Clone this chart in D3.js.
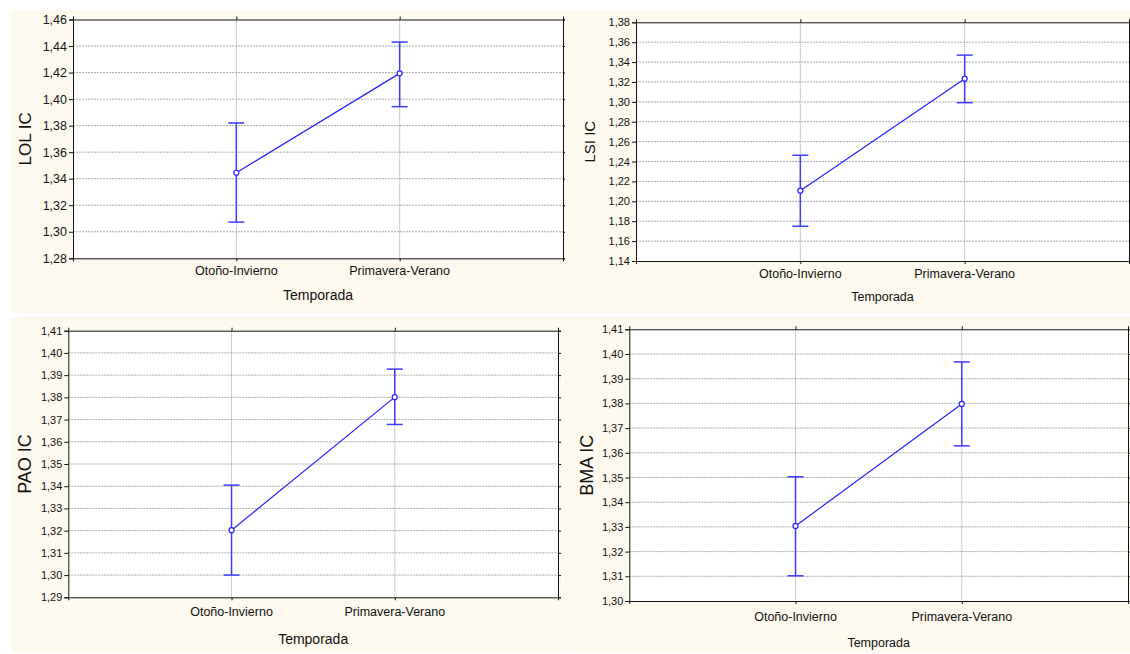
<!DOCTYPE html>
<html>
<head>
<meta charset="utf-8">
<script src="https://cdnjs.cloudflare.com/ajax/libs/d3/7.8.5/d3.min.js"></script>
<style>
  html, body { margin: 0; padding: 0; background: #fff; }
  svg { display: block; font-family: "Liberation Sans", Arial, sans-serif; }
</style>
</head>
<body>
<div id="chart"></div>
<script>
  // categories on x
  var categories = ['Otoño-Invierno', 'Primavera-Verano'];
  var xTitle = 'Temporada';

  // means and confidence limits
  var lolMean = [1.3445, 1.4194];
  var lolLow = [1.3073, 1.3943];
  var lolHigh = [1.3820, 1.4430];

  var lsiMean = [1.2107, 1.3233];
  var lsiLow = [1.1749, 1.2992];
  var lsiHigh = [1.2463, 1.3470];

  var paoMean = [1.3202, 1.3801];
  var paoLow = [1.3000, 1.3678];
  var paoHigh = [1.3405, 1.3927];

  var bmaMean = [1.3304, 1.3798];
  var bmaLow = [1.3102, 1.3628];
  var bmaHigh = [1.3503, 1.3968];

  // y tick values
  var lolTicks = [1.28, 1.30, 1.32, 1.34, 1.36, 1.38, 1.40, 1.42, 1.44, 1.46];
  var lsiTicks = [1.14, 1.16, 1.18, 1.20, 1.22, 1.24, 1.26, 1.28, 1.30, 1.32, 1.34, 1.36, 1.38];
  var paoTicks = [1.29, 1.30, 1.31, 1.32, 1.33, 1.34, 1.35, 1.36, 1.37, 1.38, 1.39, 1.40, 1.41];
  var bmaTicks = [1.30, 1.31, 1.32, 1.33, 1.34, 1.35, 1.36, 1.37, 1.38, 1.39, 1.40, 1.41];

  var panels = [
    { name: 'LOL IC', mean: lolMean, low: lolLow, high: lolHigh, ticks: lolTicks,
      box: { l: 73, r: 563, t: 19.5, b: 258.3 }, bg: [11, 10, 565, 313],
      ylx: 25, xlBase: 275, titleBase: 300, tickFs: 12.5, xlFs: 12.5, titleFs: 14, ylFs: 17 },
    { name: 'LSI IC', mean: lsiMean, low: lsiLow, high: lsiHigh, ticks: lsiTicks,
      box: { l: 636, r: 1129, t: 22.3, b: 261 }, bg: [565, 10, 1130, 313],
      ylx: 590, xlBase: 278, titleBase: 301, tickFs: 11, xlFs: 12.5, titleFs: 12.5, ylFs: 15 },
    { name: 'PAO IC', mean: paoMean, low: paoLow, high: paoHigh, ticks: paoTicks,
      box: { l: 68.3, r: 558, t: 330.7, b: 597.3 }, bg: [11, 317, 562, 653],
      ylx: 25, xlBase: 616, titleBase: 644, tickFs: 11, xlFs: 12.5, titleFs: 14, ylFs: 18 },
    { name: 'BMA IC', mean: bmaMean, low: bmaLow, high: bmaHigh, ticks: bmaTicks,
      box: { l: 629.3, r: 1128, t: 329.3, b: 601 }, bg: [563, 317, 1130, 653],
      ylx: 587, xlBase: 621, titleBase: 647, tickFs: 11, xlFs: 12.5, titleFs: 12.5, ylFs: 18 }
  ];

  var W = 1130, H = 654;
  var svg = d3.select('#chart').append('svg').attr('width', W).attr('height', H);
  var fmt = function (d) { return d3.format('.2f')(d).replace('.', ','); };

  panels.forEach(function (p) {
    var b = p.box;
    svg.append('rect')
      .attr('x', p.bg[0]).attr('y', p.bg[1])
      .attr('width', p.bg[2] - p.bg[0]).attr('height', p.bg[3] - p.bg[1])
      .attr('fill', '#fdf9ee');

    var x = d3.scalePoint().domain(categories).range([b.l, b.r]).padding(1);
    var y = d3.scaleLinear().domain(d3.extent(p.ticks)).range([b.b, b.t]);

    svg.append('rect').attr('x', b.l).attr('y', b.t)
      .attr('width', b.r - b.l).attr('height', b.b - b.t).attr('fill', '#fff');

    // grid
    svg.append('g').selectAll('line').data(p.ticks.slice(1, -1)).enter().append('line')
      .attr('x1', b.l).attr('x2', b.r)
      .attr('y1', function (d) { return y(d); }).attr('y2', function (d) { return y(d); })
      .attr('stroke', '#aaaaaa').attr('stroke-width', 1).attr('stroke-dasharray', '2,1');
    svg.append('g').selectAll('line').data(categories).enter().append('line')
      .attr('x1', function (d) { return x(d); }).attr('x2', function (d) { return x(d); })
      .attr('y1', b.t).attr('y2', b.b)
      .attr('stroke', '#999').attr('stroke-width', 1).attr('stroke-dasharray', '1,1');

    // axes
    var gl = svg.append('g').attr('transform', 'translate(' + b.l + ',0)')
      .call(d3.axisLeft(y).tickValues(p.ticks).tickFormat(fmt).tickSize(4).tickPadding(2));
    gl.selectAll('text').attr('font-size', p.tickFs).attr('fill', '#111')
      .attr('font-family', '"Liberation Sans", Arial, sans-serif');
    svg.append('g').attr('transform', 'translate(' + b.r + ',0)')
      .call(d3.axisRight(y).tickValues(p.ticks).tickFormat('').tickSize(3));
    var gb = svg.append('g').attr('transform', 'translate(0,' + b.b + ')')
      .call(d3.axisBottom(x).tickSize(3).tickPadding(20));
    gb.selectAll('text').remove();
    svg.append('g').attr('transform', 'translate(0,' + b.t + ')')
      .call(d3.axisTop(x).tickFormat('').tickSize(3));
    svg.selectAll('.domain').attr('stroke', '#111');
    svg.selectAll('.tick line').attr('stroke', '#111');

    // category labels
    svg.append('g').selectAll('text').data(categories).enter().append('text')
      .attr('x', function (d) { return x(d); }).attr('y', p.xlBase)
      .attr('text-anchor', 'middle').attr('font-size', p.xlFs).attr('fill', '#111')
      .text(function (d) { return d; });

    svg.append('text').attr('x', (b.l + b.r) / 2).attr('y', p.titleBase)
      .attr('text-anchor', 'middle').attr('font-size', p.titleFs).attr('fill', '#111')
      .text(xTitle);

    svg.append('text')
      .attr('transform', 'translate(' + (p.ylx + p.ylFs * 0.36) + ',' + ((b.t + b.b) / 2) + ') rotate(-90)')
      .attr('text-anchor', 'middle').attr('font-size', p.ylFs).attr('fill', '#111')
      .text(p.name);

    // error bars
    var eb = svg.append('g').attr('stroke', '#3c3cff').attr('stroke-width', 1.5);
    categories.forEach(function (c, i) {
      eb.append('line').attr('x1', x(c)).attr('x2', x(c))
        .attr('y1', y(p.low[i])).attr('y2', y(p.high[i]));
      eb.append('line').attr('x1', x(c) - 8).attr('x2', x(c) + 8)
        .attr('y1', y(p.low[i])).attr('y2', y(p.low[i]));
      eb.append('line').attr('x1', x(c) - 8).attr('x2', x(c) + 8)
        .attr('y1', y(p.high[i])).attr('y2', y(p.high[i]));
    });

    // mean line and markers
    var line = d3.line()
      .x(function (d, i) { return x(categories[i]); })
      .y(function (d) { return y(d); });
    svg.append('path').datum(p.mean).attr('d', line)
      .attr('fill', 'none').attr('stroke', '#2323ff').attr('stroke-width', 1.2);
    svg.append('g').selectAll('circle').data(p.mean).enter().append('circle')
      .attr('cx', function (d, i) { return x(categories[i]); })
      .attr('cy', function (d) { return y(d); })
      .attr('r', 2.5).attr('fill', '#fff').attr('stroke', '#2323ff').attr('stroke-width', 1.2);
  });
</script>
</body>
</html>
